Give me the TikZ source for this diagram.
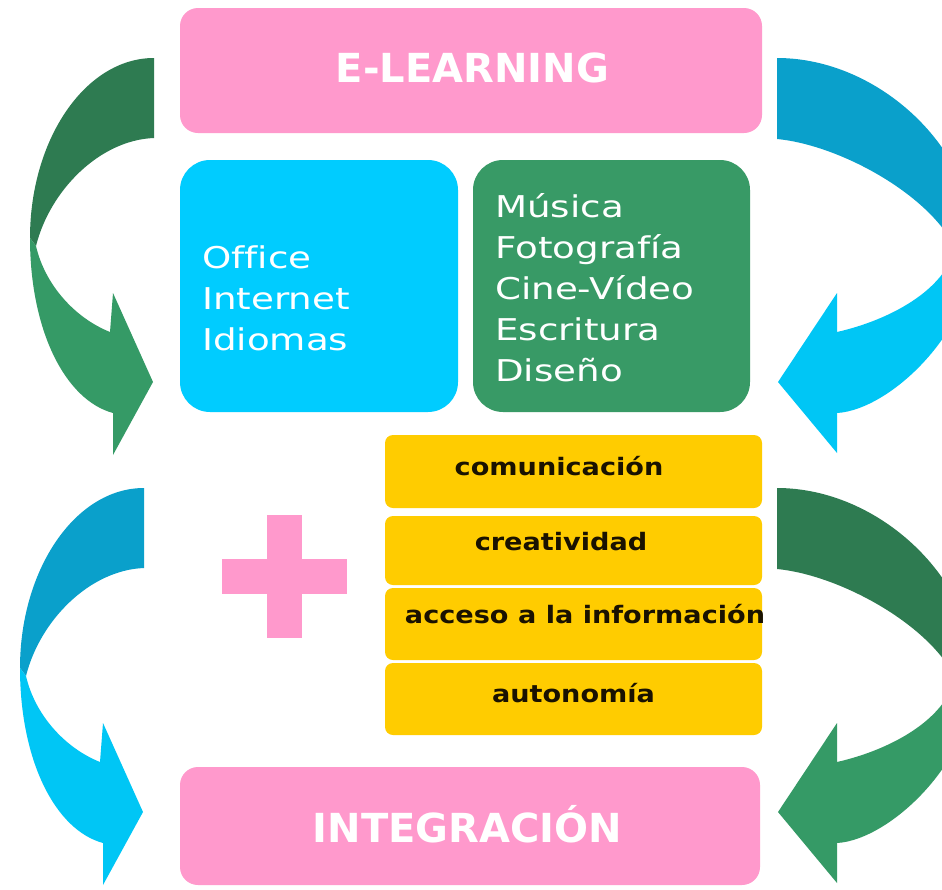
\documentclass[tikz,border=0pt]{standalone}
\usepackage{fontspec}
\setmainfont{DejaVu Sans}
\newfontfamily\boxfont[FakeStretch=1.24,Ligatures=NoCommon]{DejaVu Sans}
\newfontfamily\yelfont[FakeStretch=1.13,Ligatures=NoCommon]{DejaVu Sans}
\newfontfamily\titlefont{DejaVu Sans}
\definecolor{pinkc}{HTML}{FF99CC}
\definecolor{bluebox}{HTML}{00CCFF}
\definecolor{greenbox}{HTML}{389A66}
\definecolor{yellowc}{HTML}{FFCC00}
\definecolor{gdark}{HTML}{2E7B51}
\definecolor{glight}{HTML}{359A66}
\definecolor{bdark}{HTML}{0AA0CB}
\definecolor{blight}{HTML}{00C6F5}
\definecolor{ytext}{HTML}{1A1200}
\tikzset{
  pics/leftarr/.style 2 args={code={
    \fill[#1] (154,58) .. controls (85,58) and (30,140) .. (30,238) -- (36,246)
       .. controls (50,190) and (100,140) .. (154,138) -- cycle;
    \fill[#2] (30,238) .. controls (30,330) and (65,400) .. (113,413) -- (113,455)
       -- (153,382) -- (113,293) -- (110,332) .. controls (75,318) and (45,285) .. (36,246) -- cycle;
  }},
  pics/rightarr/.style 2 args={code={
    \fill[#1] (777,58) .. controls (880,58) and (975,150) .. (975,245) -- (955,248)
       .. controls (930,195) and (840,145) .. (777,139) -- cycle;
    \fill[#2] (975,245) .. controls (975,330) and (890,410) .. (837,413) -- (837,453)
       -- (778,382) -- (837,293) -- (837,332) .. controls (890,320) and (945,290) .. (955,248) -- cycle;
  }},
  boxbase/.style={inner sep=0pt, outer sep=0pt, draw=none},
  pinkbox/.style={boxbase, fill=pinkc, rounded corners=18pt},
  bigbox/.style={boxbase, rounded corners=30pt, minimum height=252pt},
  yelbox/.style={boxbase, fill=yellowc, rounded corners=8pt, minimum width=377pt},
  titletext/.style={inner sep=0pt, anchor=base, text=white, font=\titlefont\bfseries\fontsize{40}{48}\selectfont},
  listtext/.style={inner sep=0pt, anchor=base west, text=white, font=\boxfont\fontsize{30}{41}\selectfont},
  yeltext/.style={inner sep=0pt, anchor=base, text=ytext, font=\yelfont\bfseries\fontsize{24}{29}\selectfont},
}
\begin{document}
\begin{tikzpicture}[x=1pt,y=-1pt]
\useasboundingbox (0,0) rectangle (942,889);
\fill[white] (0,0) rectangle (942,889);
% curved arrows
\begin{scope}
  \clip (0,0) rectangle (942,889);
  \pic at (0,0) {leftarr={gdark}{glight}};
  \pic at (-10,430) {leftarr={bdark}{blight}};
  \pic at (0,0) {rightarr={bdark}{blight}};
  \pic at (0,430) {rightarr={gdark}{glight}};
\end{scope}
% boxes
\node[pinkbox, minimum width=582pt, minimum height=125pt] (elearn) at (471,70.5) {};
\node[titletext] (elearntxt) at (472.5,82) {E-LEARNING};
\node[bigbox, fill=bluebox, minimum width=278pt] (bluecard) at (319,286) {};
\node[bigbox, fill=greenbox, minimum width=277pt] (greencard) at (611.5,286) {};
\node[listtext] (bluetxt) at (202,268) {\begin{tabular}[t]{@{}l@{}}Office\\Internet\\Idiomas\end{tabular}};
\node[listtext] (greentxt) at (495,217) {\begin{tabular}[t]{@{}l@{}}Música\\Fotografía\\Cine-Vídeo\\Escritura\\Diseño\end{tabular}};
\node[yelbox, minimum height=73pt] (y1) at (573.5,471.5) {};
\node[yelbox, minimum height=69pt] (y2) at (573.5,550.5) {};
\node[yelbox, minimum height=72pt] (y3) at (573.5,624) {};
\node[yelbox, minimum height=72pt] (y4) at (573.5,699) {};
\node[yeltext] (y1t) at (559,475) {comunicación};
\node[yeltext] (y2t) at (561,550) {creatividad};
\node[yeltext] (y3t) at (585,623) {acceso a la información};
\node[yeltext] (y4t) at (573.5,702) {autonomía};
% plus sign
\fill[pinkc] (267,515) rectangle (302,638);
\fill[pinkc] (222,559) rectangle (347,594);
\node[pinkbox, minimum width=580pt, minimum height=118pt] (integ) at (470,826) {};
\node[titletext] (integtxt) at (467.5,842) {INTEGRACIÓN};
\end{tikzpicture}
\end{document}
